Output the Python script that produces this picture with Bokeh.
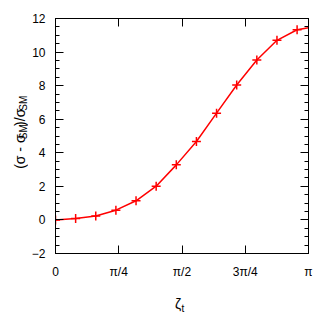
import math
from bokeh.plotting import figure
from bokeh.models import (Range1d, LinearAxis, FixedTicker, SingleIntervalTicker,
                          CustomJSTickFormatter)
from bokeh.core.properties import value
from bokeh.layouts import row, column
from bokeh.embed import file_html
from bokeh.resources import INLINE

# ---- data ----
zeta = [0.0, 0.25, 0.5, 0.75, 1.0, 1.25, 1.5, 1.75, 2.0, 2.25, 2.5, 2.75, 3.0]
ratio = [0.0, 0.08, 0.23, 0.58, 1.14, 2.01, 3.28, 4.67, 6.36, 8.04, 9.53, 10.70, 11.33]
end_zeta = [math.pi]
end_ratio = [11.45]

xtick_values = [0.0, math.pi / 4, math.pi / 2, 3 * math.pi / 4, math.pi]
xtick_labels = ["0", "π/4", "π/2", "3π/4", "π"]

FONT = "Liberation Sans"
RED = "#ff0000"

# ---- layout sizes (pixels) ----
YLAB_W = 28
MAIN_LEFT, FRAME_W, MAIN_RIGHT = 25, 253, 10
MAIN_TOP, FRAME_H, MAIN_BOTTOM = 18, 235, 28
MAIN_W = MAIN_LEFT + FRAME_W + MAIN_RIGHT
MAIN_H = MAIN_TOP + FRAME_H + MAIN_BOTTOM
TOTAL_W = YLAB_W + MAIN_W
XLAB_H = 35


def blank(width, height):
    f = figure(width=width, height=height, x_range=Range1d(0, width), y_range=Range1d(0, height),
               min_border=0, x_axis_location=None, y_axis_location=None,
               output_backend="svg", toolbar_location=None)
    f.grid.visible = False
    f.outline_line_color = None
    f.background_fill_color = "white"
    f.border_fill_color = "white"
    return f


p = figure(frame_width=FRAME_W, frame_height=FRAME_H,
           min_border_left=MAIN_LEFT, min_border_right=MAIN_RIGHT,
           min_border_top=MAIN_TOP, min_border_bottom=MAIN_BOTTOM,
           x_range=Range1d(0, math.pi), y_range=Range1d(-2, 12),
           output_backend="svg", toolbar_location=None)
p.grid.visible = False
p.outline_line_color = "black"
p.background_fill_color = "white"
p.border_fill_color = "white"

line_x = zeta + end_zeta
line_y = ratio + end_ratio
p.line(line_x, line_y, line_color=RED, line_width=1.5)
p.scatter(zeta, ratio, marker="cross", size=9, line_color=RED, line_width=1.5)


def style(ax, labels=True):
    ax.axis_line_color = "black"
    ax.axis_line_width = 1
    ax.major_tick_in = 8
    ax.major_tick_out = 0
    ax.minor_tick_in = 4
    ax.minor_tick_out = 0
    ax.major_tick_line_color = "black"
    ax.minor_tick_line_color = "black"
    ax.major_label_text_font = FONT
    ax.major_label_text_font_size = "12px"
    ax.major_label_text_color = "black"
    if not labels:
        ax.formatter = CustomJSTickFormatter(code="return ''")
        ax.major_label_standoff = 0


xb = p.xaxis[0]
xb.ticker = FixedTicker(ticks=xtick_values)
xb.major_label_overrides = {v: t for v, t in zip(xtick_values, xtick_labels)}
style(xb)
xb.major_label_standoff = 11

xt = LinearAxis(ticker=FixedTicker(ticks=xtick_values))
style(xt, labels=False)
p.add_layout(xt, "above")

yl = p.yaxis[0]
yl.ticker = SingleIntervalTicker(interval=2, num_minor_ticks=4)
style(yl)
yl.major_label_standoff = 10

yr = LinearAxis(ticker=SingleIntervalTicker(interval=2, num_minor_ticks=4))
style(yr, labels=False)
p.add_layout(yr, "right")

# ---- y label panel: (σ - σ_SM)/σ_SM, rotated, reading upward ----
ylab = blank(YLAB_W, MAIN_H)
MAIN_SIZE, SUB_SIZE = 14, 10
widths = {"(": 0.333, ")": 0.333, "σ": 0.617, " ": 0.278, "-": 0.333, "/": 0.278,
          "S": 0.667, "M": 0.833}
pieces = [("(σ - σ", MAIN_SIZE, False), ("SM", SUB_SIZE, True),
          (")/σ", MAIN_SIZE, False), ("SM", SUB_SIZE, True)]
lengths = [sum(widths[c] for c in t) * s + 1 for t, s, _ in pieces]
centre_from_top = 137  # page pixels
pos = (MAIN_H - centre_from_top) - sum(lengths) / 2
for (txt, size, sub), ln in zip(pieces, lengths):
    ylab.text(x=[22.5 if sub else 19], y=[pos], text=[txt], angle=math.pi / 2,
              text_font=value(FONT), text_font_size=f"{size}px", text_color="black",
              text_align="left", text_baseline="alphabetic")
    pos += ln

# ---- x label panel: ζ_t ----
xlab = blank(TOTAL_W, XLAB_H)
# page y -> panel y : y = (MAIN_H + XLAB_H) - page_y
xlab.text(x=[174.5], y=[(MAIN_H + XLAB_H) - 303], text=["ζ"], text_font=value(FONT),
          text_font_size="14px", text_color="black", text_align="left",
          text_baseline="alphabetic")
xlab.text(x=[181], y=[(MAIN_H + XLAB_H) - 308], text=["t"], text_font=value(FONT),
          text_font_size="10px", text_color="black", text_align="left",
          text_baseline="alphabetic")

layout = column(row(ylab, p, spacing=0), xlab, spacing=0)
open("out.html", "w").write(file_html(layout, INLINE))
